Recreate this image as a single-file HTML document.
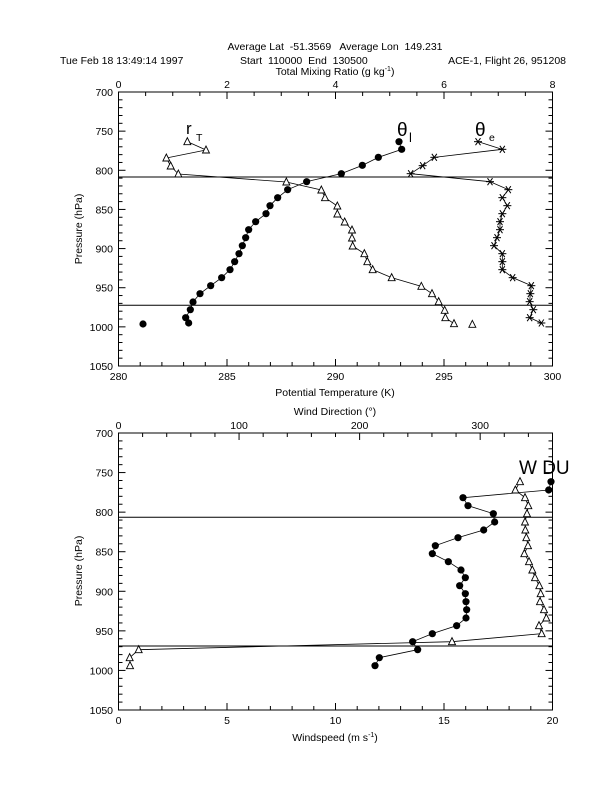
<!DOCTYPE html>
<html><head><meta charset="utf-8"><style>
body{margin:0;background:#fff}
svg{display:block}
text{font-family:"Liberation Sans",sans-serif;font-size:10.5px;fill:#000;white-space:pre}
</style></head><body>
<svg id="s" width="612" height="792" xmlns="http://www.w3.org/2000/svg" xml:space="preserve">
<text x="335" y="50" text-anchor="middle">Average Lat  -51.3569   Average Lon  149.231</text>
<text x="60" y="64">Tue Feb 18 13:49:14 1997</text>
<text x="240" y="64">Start  110000  End  130500</text>
<text x="566" y="64" text-anchor="end">ACE-1, Flight 26, 951208</text>
<text x="335" y="75" text-anchor="middle">Total Mixing Ratio (g kg<tspan dy="-4" font-size="7">-1</tspan><tspan dy="4">)</tspan></text>
<text x="335" y="396" text-anchor="middle">Potential Temperature (K)</text>
<text transform="translate(82,229) rotate(-90)" text-anchor="middle">Pressure (hPa)</text>
<text x="335" y="415" text-anchor="middle">Wind Direction (°)</text>
<text x="335" y="741" text-anchor="middle">Windspeed (m s<tspan dy="-4" font-size="7">-1</tspan><tspan dy="4">)</tspan></text>
<text transform="translate(82,571) rotate(-90)" text-anchor="middle">Pressure (hPa)</text>
<text x="186" y="134" style="font-size:17px">r</text><text x="196" y="141">T</text>
<text x="397" y="136" style="font-size:19px">θ</text><text x="409" y="142" style="font-size:13px">l</text>
<text x="475" y="136" style="font-size:19px">θ</text><text x="489" y="141">e</text>
<text x="519" y="474" style="font-size:19px">W DU</text>
<g id="g"></g>
</svg>
<script>
var g=document.getElementById('g'),h='';
function L(a,b,c,d){h+='<line x1="'+a+'" y1="'+b+'" x2="'+c+'" y2="'+d+'" stroke="#000" stroke-width="1"/>';}
function T(x,y,t,a){h+='<text x="'+x+'" y="'+y+'" text-anchor="'+(a||'middle')+'">'+t+'</text>';}
function axes(y0,y1,bot,top){
 var x0=118.5,x1=552.5;
 h+='<rect x="'+x0+'" y="'+y0+'" width="'+(x1-x0)+'" height="'+(y1-y0)+'" fill="none" stroke="#000"/>';
 for(var i=0;i<=35;i++){var y=y0+(y1-y0)*i/35,m=i%5==0,l=m?7:4;L(x0,y,x0+l,y);L(x1,y,x1-l,y);if(m)T(113,y+4,700+i*10,'end');}
 for(var i=0;i<=bot.n;i++){var x=x0+(x1-x0)*i/bot.n,m=i%bot.m==0,l=m?7:4;L(x,y1,x,y1-l);if(m)T(x,y1+14,bot.lab(i/bot.m));}
 for(var i=0;i<=top.n;i++){var x=x0+(x1-x0)*i/top.n*top.f,m=i%top.m==0,l=m?7:4;if(x>x1+.1)break;L(x,y0,x,y0+l);if(m)T(x,y0-4,top.lab(i/top.m));}
}
axes(92,366,{n:20,m:5,lab:function(k){return 280+5*k}},{n:16,m:4,f:1,lab:function(k){return 2*k}});
axes(433,710,{n:20,m:5,lab:function(k){return 5*k}},{n:18,m:5,f:1,lab:function(k){return 100*k}});
L(118.5,177,552.5,177);L(118.5,305.3,552.5,305.3);
L(118.5,517.3,552.5,517.3);L(118.5,646,552.5,646);
function conv(a,oy){return a.map(function(p){return [100+p[0]/3,oy+p[1]/3]});}
function line(p){h+='<polyline fill="none" stroke="#000" stroke-width="0.8" points="'+p.map(function(q){return q.join(',')}).join(' ')+'"/>';}
function dot(p){p.forEach(function(q){h+='<circle cx="'+q[0]+'" cy="'+q[1]+'" r="3.6" fill="#000"/>'});}
function tri(p){p.forEach(function(q){var x=q[0],y=q[1];h+='<polygon points="'+(x-3.5)+','+(y+3)+' '+(x+3.5)+','+(y+3)+' '+x+','+(y-4)+'" fill="#fff" stroke="#000" stroke-width="0.9"/>'});}
function star(p){p.forEach(function(q){var x=q[0],y=q[1],r=4;L(x-r,y,x+r,y);L(x-2.5,y-3.5,x+2.5,y+3.5);L(x-2.5,y+3.5,x+2.5,y-3.5);});}
var th=conv([[897,305],[905,328],[835,352],[787,376],[724,401],[620,425],[563,449],[533,473],[510,497],[498,521],[467,545],[446,569],[437,593],[427,617],[417,641],[404,665],[390,689],[365,713],[332,737],[300,761],[279,786],[271,809],[257,833],[266,849]],40);
var rt=conv([[262,305],[318,330],[199,354],[212,378],[235,402],[559,426],[664,450],[675,473],[712,498],[712,522],[734,546],[756,570],[756,594],[758,618],[793,641],[802,665],[818,689],[875,713],[964,739],[996,761],[1016,785],[1034,811],[1036,833],[1062,851]],40);
var te=conv([[1134,305],[1207,328],[1003,352],[968,377],[932,401],[1170,425],[1225,449],[1207,473],[1222,497],[1207,521],[1200,545],[1200,569],[1191,593],[1182,617],[1207,641],[1207,665],[1207,689],[1238,713],[1294,737],[1291,761],[1289,785],[1300,809],[1289,833],[1324,849]],40);
line(th);line(rt);line(te);dot(th);dot(conv([[129,852]],40));tri(rt);tri(conv([[1117,853]],40));star(te);
var ws=conv([[1353,245],[1346,270],[1089,293],[1104,317],[1180,341],[1184,366],[1151,390],[1074,413],[1006,437],[997,461],[1045,485],[1083,510],[1096,533],[1079,557],[1096,581],[1098,605],[1100,629],[1098,654],[1070,677],[997,701],[938,725],[953,749],[838,773],[825,797]],400);
var wd=conv([[1260,245],[1246,270],[1275,293],[1285,317],[1281,341],[1275,366],[1276,390],[1279,413],[1284,437],[1273,461],[1287,485],[1297,510],[1305,533],[1318,557],[1322,581],[1320,605],[1332,629],[1339,654],[1317,677],[1325,701],[1056,725],[116,749],[89,773],[90,797]],400);
line(ws);line(wd);dot(ws);tri(wd);
g.innerHTML=h;
</script>
</body></html>
